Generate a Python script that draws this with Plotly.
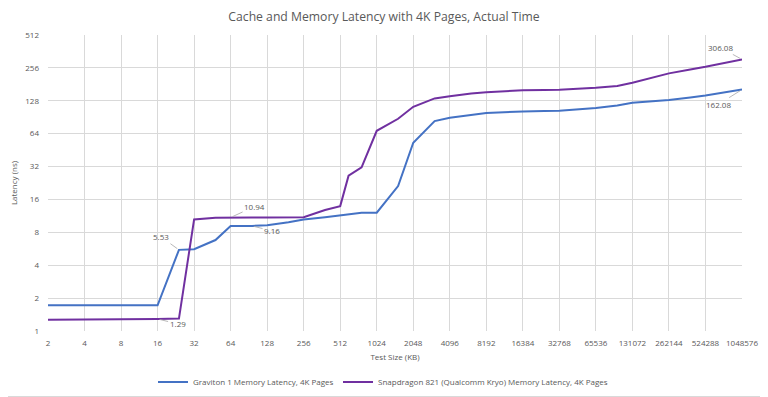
import math
import plotly.graph_objects as go

test_sizes_kb = [2, 4, 8, 12, 16, 24, 32, 48, 64, 96, 128, 192, 256, 384, 512, 600, 768,
                 1024, 1536, 2048, 3072, 4096, 5120, 6144, 8192, 10240, 12288, 16384,
                 24576, 32768, 65536, 98304, 131072, 262144, 393216, 524288, 1048576]

graviton_ns = [1.72, 1.72, 1.72, 1.72, 1.72, 5.53, 5.6, 6.8, 9.16, 9.16, 9.3, 9.9, 10.5,
               11.0, 11.4, 11.7, 12.1, 12.1, 21.2, 52.8, 83.4, 89.5, 92.5, 95.0, 98.8,
               100.0, 101.0, 102.0, 103.0, 104.0, 110.0, 116.0, 122.7, 130.0, 137.0,
               143.0, 162.08]

kryo_ns = [1.27, 1.27, 1.27, 1.27, 1.29, 1.30, 10.5, 10.86, 10.94, 10.94, 10.94, 10.96,
           11.0, 12.8, 13.9, 26.4, 31.5, 68.0, 87.6, 112.8, 134.6, 141.0, 146.0, 149.5,
           152.8, 155.0, 157.0, 160.0, 160.5, 161.5, 168.0, 175.0, 187.0, 228.0, 248.0,
           262.0, 306.08]

x_ticks = [2 ** i for i in range(1, 21)]
y_ticks = [2 ** i for i in range(0, 10)]

series_names = ["Graviton 1 Memory Latency, 4K Pages",
                "Snapdragon 821 (Qualcomm Kryo) Memory Latency, 4K Pages"]

# labelled points: (series, size, dx, dy)
labelled = [("g", 24, -18, -13), ("g", 96, 20, 5), ("g", 1048576, -24, 15),
            ("k", 16, 20, 5), ("k", 64, 24, -11), ("k", 1048576, -22, -12)]

BLUE = "#4472C4"
PURPLE = "#7030A0"
TXT = "#595959"
GRID = "#D9D9D9"
FONT = "Open Sans"

# the page body adds an 8px offset; figure is sized so that the plot lands
# where the reference has it in the 768x397 window
W, H = 760, 389
L, R, T, B = 40, 26, 27, 66
PW, PH = W - L - R, H - T - B

def px_x(px):
    return (px - L) / PW

def px_y(py):
    return (H - B - py) / PH

fig = go.Figure()
fig.add_trace(go.Scatter(x=test_sizes_kb, y=graviton_ns, mode="lines",
                         name=series_names[0], line=dict(color=BLUE, width=2),
                         legend="legend"))
fig.add_trace(go.Scatter(x=test_sizes_kb, y=kryo_ns, mode="lines",
                         name=series_names[1], line=dict(color=PURPLE, width=2),
                         legend="legend2"))

for s, size, dx, dy in labelled:
    arr = graviton_ns if s == "g" else kryo_ns
    v = arr[test_sizes_kb.index(size)]
    fig.add_annotation(x=math.log10(size), y=math.log10(v), text=f"{v:.2f}",
                       showarrow=True, arrowhead=0, arrowwidth=0.8, arrowcolor="#A6A6A6",
                       ax=dx, ay=dy, standoff=2,
                       font=dict(family=FONT, size=8, color=TXT))

legend_common = dict(orientation="h", yanchor="middle", xanchor="left",
                     font=dict(family=FONT, size=8, color=TXT),
                     bgcolor="rgba(0,0,0,0)", itemwidth=30)

fig.update_layout(
    width=W, height=H,
    margin=dict(l=L, r=R, t=T, b=B, autoexpand=False),
    paper_bgcolor="white", plot_bgcolor="white",
    title=dict(text="Cache and Memory Latency with 4K Pages, Actual Time",
               x=376 / W, xanchor="center", xref="container",
               y=1 - 9 / H, yanchor="middle",
               font=dict(family=FONT, size=12.2, color=TXT)),
    font=dict(family=FONT, size=8, color=TXT),
    showlegend=True,
    legend=dict(legend_common, x=px_x(145), y=px_y(374)),
    legend2=dict(legend_common, x=px_x(330), y=px_y(374)),
    xaxis=dict(type="log", range=[math.log10(2), math.log10(1048576)],
               tickvals=x_ticks, ticktext=[str(v) for v in x_ticks],
               showgrid=True, gridcolor=GRID, gridwidth=1, zeroline=False,
               showline=False, ticks="", tickfont=dict(size=8, color=TXT),
               ticklabelstandoff=6, automargin=True,
               title=dict(text="Test Size (KB)", font=dict(size=8, color=TXT), standoff=7)),
    yaxis=dict(type="log", range=[0, math.log10(512)],
               tickvals=y_ticks, ticktext=[str(v) for v in y_ticks],
               showgrid=True, gridcolor=GRID, gridwidth=1, zeroline=False,
               showline=False, ticks="", tickfont=dict(size=8, color=TXT),
               ticklabelstandoff=8, automargin=True,
               title=dict(text="Latency (ns)", font=dict(size=8, color=TXT), standoff=6)),
)

# chart-area border (bottom edge visible in the window)
fig.add_shape(type="line", xref="paper", yref="paper", x0=px_x(0), x1=px_x(W),
              y0=px_y(388.5), y1=px_y(388.5), line=dict(color=GRID, width=1),
              layer="below")

fig.write_html("out.html")
